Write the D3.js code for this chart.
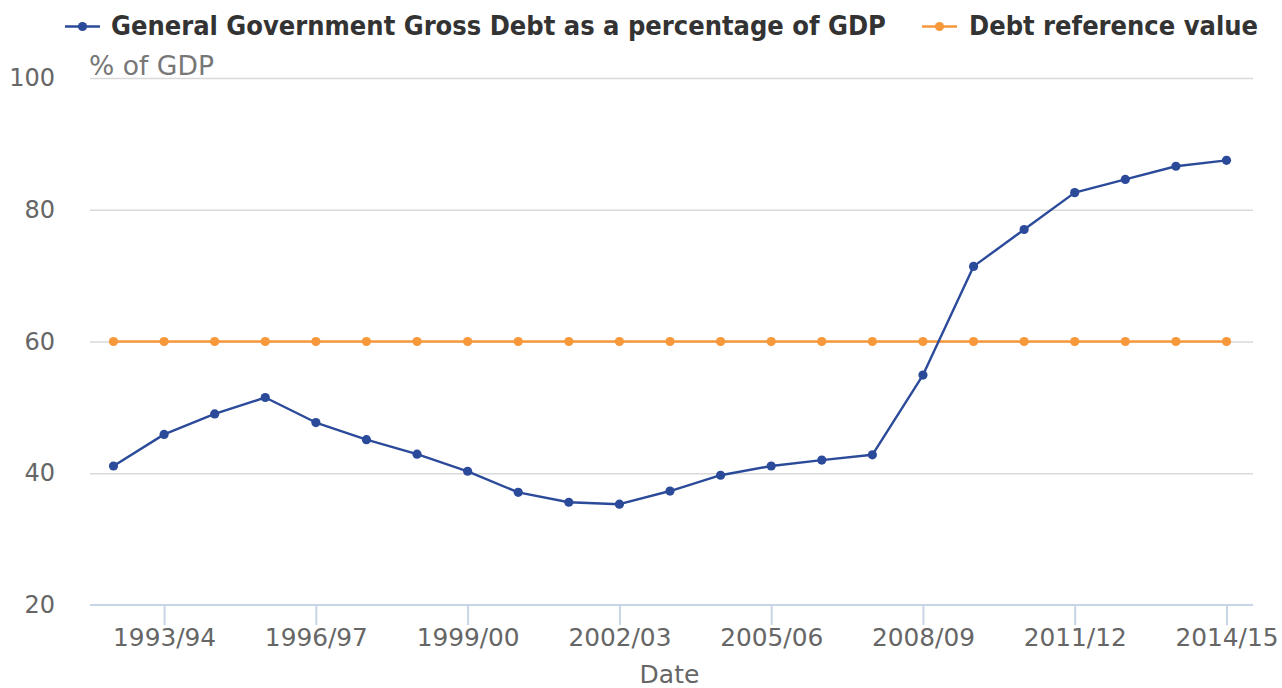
<!DOCTYPE html>
<html>
<head>
<meta charset="utf-8">
<script src="https://cdn.jsdelivr.net/npm/d3@7"></script>
<style>
  html, body { margin: 0; padding: 0; background: #ffffff; }
  svg { display: block; font-family: "DejaVu Sans", sans-serif; }
</style>
</head>
<body>
<svg id="chart" width="1282" height="688"></svg>
<script>
const categories = ["1992/93","1993/94","1994/95","1995/96","1996/97","1997/98","1998/99","1999/00","2000/01","2001/02","2002/03","2003/04","2004/05","2005/06","2006/07","2007/08","2008/09","2009/10","2010/11","2011/12","2012/13","2013/14","2014/15"];
const debtValues = [41.1,45.9,49.0,51.5,47.7,45.1,42.9,40.3,37.1,35.6,35.3,37.3,39.7,41.1,42.0,42.8,54.9,71.4,77.0,82.6,84.6,86.6,87.5];
const referenceValues = [60,60,60,60,60,60,60,60,60,60,60,60,60,60,60,60,60,60,60,60,60,60,60];
const xTickLabels = ["1993/94","1996/97","1999/00","2002/03","2005/06","2008/09","2011/12","2014/15"];
const yTicks = [20,40,60,80,100];
const seriesNames = ["General Government Gross Debt as a percentage of GDP","Debt reference value"];
const yAxisTitle = "% of GDP";
const xAxisTitle = "Date";

const colors = ["#2b4a9a", "#f7983a"];

const svg = d3.select("#chart");
const mLeft = 90, mRight = 1253, mTop = 78, mBottom = 605;

const x = d3.scalePoint().domain(categories).range([mLeft + 23.5, mRight - 26.5]);
const cx = d => x(d);
const y = d3.scaleLinear().domain([20, 100]).range([mBottom, mTop]);

// gridlines
const grid = svg.append("g").attr("transform", `translate(${mLeft},0)`)
  .call(d3.axisLeft(y).tickValues(yTicks.slice(1)).tickSize(-(mRight - mLeft)).tickFormat(""));
grid.select(".domain").remove();
grid.selectAll(".tick line").attr("stroke", "#d9d9d9").attr("stroke-width", 1.5);

// y labels
const yAxis = svg.append("g").attr("transform", `translate(${mLeft},0)`)
  .call(d3.axisLeft(y).tickValues(yTicks).tickSize(0).tickPadding(35));
yAxis.select(".domain").remove();
yAxis.selectAll("text").attr("fill", "#666666").style("font-size", "24px").style("font-family", "DejaVu Sans");

// x axis
const xAxis = svg.append("g").attr("transform", `translate(0,${mBottom})`)
  .call(d3.axisBottom(x).tickValues(xTickLabels).tickSize(20).tickPadding(3).tickSizeOuter(0));
xAxis.select(".domain").attr("stroke", "#c8d5e6").attr("stroke-width", 2).attr("d", `M${mLeft},0H${mRight}`);
xAxis.selectAll(".tick line").attr("stroke", "#c8d5e6").attr("stroke-width", 2);
xAxis.selectAll("text").attr("fill", "#666666").style("font-size", "24.8px").style("font-family", "DejaVu Sans");

// axis titles
svg.append("text").attr("x", 89).attr("y", 75).attr("fill", "#777777")
  .style("font-size", "26.6px").text(yAxisTitle);
svg.append("text").attr("x", (mLeft + mRight) / 2 - 2).attr("y", 683).attr("text-anchor", "middle")
  .attr("fill", "#666666").style("font-size", "25px").text(xAxisTitle);

// series
const line = d3.line().x((d, i) => cx(categories[i])).y(d => y(d));
[referenceValues, debtValues].forEach((vals, k) => {
  const c = k === 0 ? colors[1] : colors[0];
  svg.append("path").datum(vals).attr("d", line).attr("fill", "none")
    .attr("stroke", c).attr("stroke-width", 2.4).attr("stroke-linejoin", "round");
  svg.append("g").selectAll("circle").data(vals).join("circle")
    .attr("cx", (d, i) => cx(categories[i])).attr("cy", d => y(d)).attr("r", 4.6).attr("fill", c);
});

// legend
const legendItems = [
  {name: seriesNames[0], color: colors[0], x0: 65, tx: 111},
  {name: seriesNames[1], color: colors[1], x0: 922, tx: 969}
];
legendItems.forEach(it => {
  const g = svg.append("g");
  g.append("line").attr("x1", it.x0).attr("x2", it.x0 + 35).attr("y1", 26.5).attr("y2", 26.5)
    .attr("stroke", it.color).attr("stroke-width", 2.4);
  g.append("circle").attr("cx", it.x0 + 17.5).attr("cy", 26.5).attr("r", 4.6).attr("fill", it.color);
  g.append("text").attr("x", it.tx).attr("y", 34.5).attr("fill", "#333333")
    .style("font-family", "'DejaVu Sans Condensed', 'DejaVu Sans', sans-serif")
    .style("font-stretch", "condensed")
    .style("font-size", "27px").style("font-weight", "bold").text(it.name);
});
</script>
</body>
</html>
